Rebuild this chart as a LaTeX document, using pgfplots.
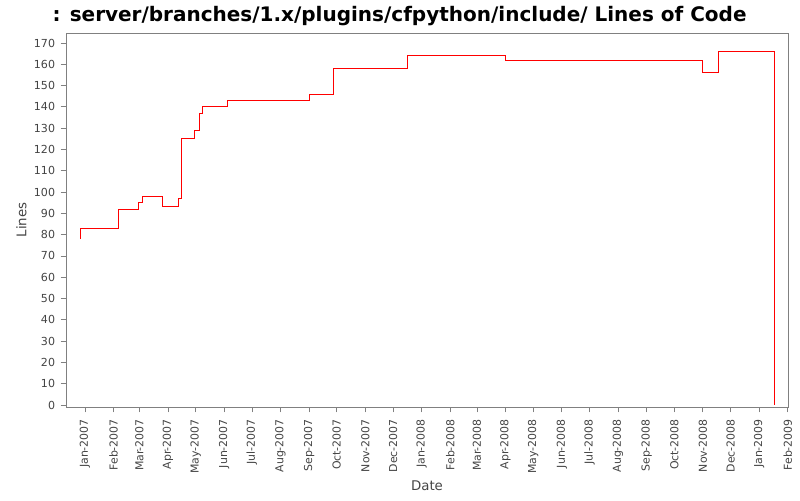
\documentclass[border=0pt]{standalone}
\usepackage{fontspec}
\setmainfont{DejaVu Sans}
\usepackage{pgfplots}
\pgfplotsset{compat=1.18}
\definecolor{boxgray}{RGB}{128,128,128}
\definecolor{labgray}{RGB}{68,68,68}

\begin{document}
\begin{tikzpicture}[x=1pt,y=1pt]
% picture frame: 800 x 500 px, 1 px = 0.75 pt, origin at plot box lower left
\useasboundingbox (-49.5,-69.75) rectangle (550.5,305.25);
\begin{axis}[
    name=main,
    at={(0,0)}, anchor=south west,
    scale only axis,
    width=541.5pt, height=280.5pt,
    xmin=-20.6, xmax=762.3,
    ymin=-0.94, ymax=174.7,
    axis line style={boxgray, line width=0.6pt},
    tick style={boxgray, line width=0.6pt},
    tick align=outside,
    major tick length=4pt,
    xtick pos=bottom, ytick pos=left,
    xtick={0,31,59,90,120,151,181,212,243,273,304,334,365,396,425,456,486,517,547,578,609,639,670,700,731,762},
    xticklabels={Jan-2007,Feb-2007,Mar-2007,Apr-2007,May-2007,Jun-2007,Jul-2007,Aug-2007,Sep-2007,Oct-2007,Nov-2007,Dec-2007,Jan-2008,Feb-2008,Mar-2008,Apr-2008,May-2008,Jun-2008,Jul-2008,Aug-2008,Sep-2008,Oct-2008,Nov-2008,Dec-2008,Jan-2009,Feb-2009},
    ytick={0,10,...,170},
    x tick label style={rotate=90, anchor=east, font=\fontsize{8.2}{9}\selectfont, text=labgray, inner sep=1pt},
    y tick label style={font=\fontsize{8.3}{9}\selectfont, text=labgray, inner sep=1pt},
    xticklabel shift=4pt,
    yticklabel shift=3pt,
    /pgf/number format/assume math mode=true,
    xlabel={Date},
    ylabel={Lines},
    xlabel style={font=\fontsize{10}{12}\selectfont, text=labgray, yshift=-1pt},
    ylabel style={font=\fontsize{10}{12}\selectfont, text=labgray, yshift=1pt},
    title={\textbf{: server/branches/1.x/plugins/cfpython/include/ Lines of Code}},
    title style={font=\fontsize{15}{17}\selectfont, at={(0.462,1)}, yshift=-4pt},
]
\addplot[const plot, red, line width=0.75pt] coordinates {
    (-4.7,78) (-4.7,83) (36.5,92) (57.8,95) (62.1,98) (83.8,93)
    (101.2,97) (104.4,125) (118.5,129) (124.5,137) (127.7,140)
    (154.3,143) (243.2,146) (269.5,158) (349.5,164) (455.6,162)
    (669.4,156) (687.1,166) (747.9,0)
};
\end{axis}
% detached axis lines, as in the reference
\draw[boxgray, line width=0.6pt, xshift=-3pt] (main.south west) -- (main.north west);
\draw[boxgray, line width=0.6pt, yshift=-3pt] (main.south west) -- (main.south east);
\end{tikzpicture}
\end{document}
